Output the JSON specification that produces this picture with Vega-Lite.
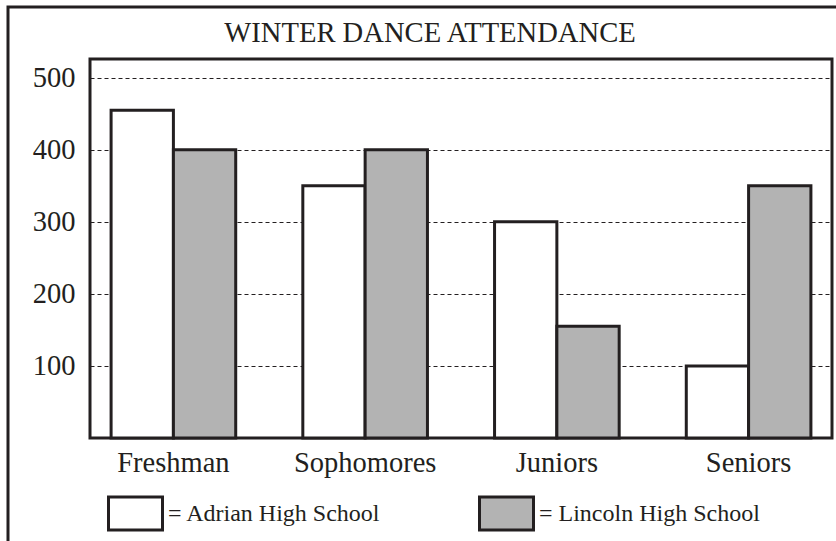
{
  "$schema": "https://vega.github.io/schema/vega-lite/v6.json",
  "width": 742,
  "height": 379,
  "autosize": {"type": "none"},
  "padding": {"left": 90, "top": 59, "right": 4, "bottom": 103},
  "background": "white",
  "title": {
    "text": "WINTER DANCE ATTENDANCE",
    "font": "Liberation Serif",
    "fontSize": 28.6,
    "fontWeight": "normal",
    "color": "#231f20",
    "anchor": "middle",
    "dx": -31,
    "offset": -42
  },
  "data": {
    "values": [
      {"grade": "Freshman", "school": "Adrian High School", "attendance": 455},
      {"grade": "Freshman", "school": "Lincoln High School", "attendance": 400},
      {"grade": "Sophomores", "school": "Adrian High School", "attendance": 350},
      {"grade": "Sophomores", "school": "Lincoln High School", "attendance": 400},
      {"grade": "Juniors", "school": "Adrian High School", "attendance": 300},
      {"grade": "Juniors", "school": "Lincoln High School", "attendance": 155},
      {"grade": "Seniors", "school": "Adrian High School", "attendance": 100},
      {"grade": "Seniors", "school": "Lincoln High School", "attendance": 350}
    ]
  },
  "mark": {"type": "bar", "stroke": "#231f20", "strokeWidth": 3, "fillOpacity": 1},
  "encoding": {
    "x": {
      "field": "grade",
      "type": "nominal",
      "sort": ["Freshman", "Sophomores", "Juniors", "Seniors"],
      "scale": {"paddingInner": 0.35, "paddingOuter": 0.11},
      "axis": {
        "title": null,
        "labelAngle": 0,
        "ticks": false,
        "domain": false,
        "labelFont": "Liberation Serif",
        "labelFontSize": 28.5,
        "labelColor": "#231f20",
        "labelPadding": 10
      }
    },
    "xOffset": {
      "field": "school",
      "type": "nominal",
      "scale": {"paddingInner": 0, "paddingOuter": 0}
    },
    "y": {
      "field": "attendance",
      "type": "quantitative",
      "scale": {"domain": [0, 526], "nice": false, "zero": true},
      "axis": {
        "title": null,
        "values": [100, 200, 300, 400, 500],
        "ticks": false,
        "domain": false,
        "labelFont": "Liberation Serif",
        "labelFontSize": 28.5,
        "labelColor": "#231f20",
        "labelPadding": 15,
        "grid": true,
        "gridColor": "#231f20",
        "gridWidth": 1,
        "gridDash": [4, 3]
      }
    },
    "fill": {
      "field": "school",
      "type": "nominal",
      "scale": {"domain": ["Adrian High School", "Lincoln High School"], "range": ["#ffffff", "#b3b3b3"]},
      "legend": {
        "orient": "none",
        "legendX": -82,
        "legendY": -52,
        "direction": "horizontal",
        "columns": 2,
        "columnPadding": 92,
        "padding": 99,
        "strokeColor": "#231f20",
        "title": "\u00a0",
        "titleFontSize": 10,
        "titlePadding": 369,
        "symbolType": "M-1,-0.611H1V0.611H-1Z",
        "symbolSize": 2916,
        "symbolStrokeColor": "#231f20",
        "symbolStrokeWidth": 3,
        "symbolOpacity": 1,
        "labelExpr": "'= ' + datum.label",
        "labelFont": "Liberation Serif",
        "labelFontSize": 24,
        "labelColor": "#231f20",
        "labelOffset": 4,
        "labelLimit": 0
      }
    }
  },
  "config": {
    "view": {"stroke": "#231f20", "strokeWidth": 3},
    "legend": {"strokeWidth": 3}
  }
}
